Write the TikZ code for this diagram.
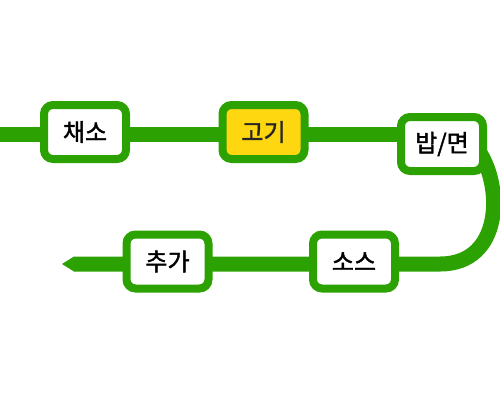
\documentclass[tikz,border=0pt]{standalone}
\usepackage{fontspec}
\newfontfamily\kr{Noto Sans CJK KR}[FakeBold=1.6]
\usetikzlibrary{backgrounds}
\definecolor{lg}{HTML}{2CA102}
\definecolor{yel}{HTML}{FFD710}
\tikzset{
  stop/.style={draw=lg, line width=8pt, fill=white, rounded corners=9pt,
    minimum width=82pt, minimum height=54pt, inner sep=0pt,
    font=\kr\fontsize{24}{24}\selectfont, text=black},
  hl/.style={fill=yel, text=black!85},
  track/.style={draw=lg, line width=15pt}
}
\begin{document}
\begin{tikzpicture}[x=1pt,y=-1pt]
\useasboundingbox (0,0) rectangle (500,400);
\node[stop] (a) at (85,132) {채소};
\node[stop,hl] (b) at (263.5,132) {고기};
\node[stop] (c) at (442,144) {밥/면};
\node[stop] (d) at (354,261.5) {소스};
\node[stop] (e) at (167.5,261.5) {추가};
\coordinate (s) at (0,134.5);
\coordinate (t) at (74,264);
\coordinate (c1) at (478,150);
\coordinate (c2) at (440,264);
\begin{scope}[on background layer]
\draw[track] (s) -- (a.west |- s) -- (c.west |- s);
\draw[track] (c1) .. controls (503,185) and (503,264) .. (c2) -- (t);
\fill[lg] (t) ++(0,-7.5) -- ++(-12,7.5) -- ++(12,7.5) -- cycle;
\end{scope}
\end{tikzpicture}
\end{document}
